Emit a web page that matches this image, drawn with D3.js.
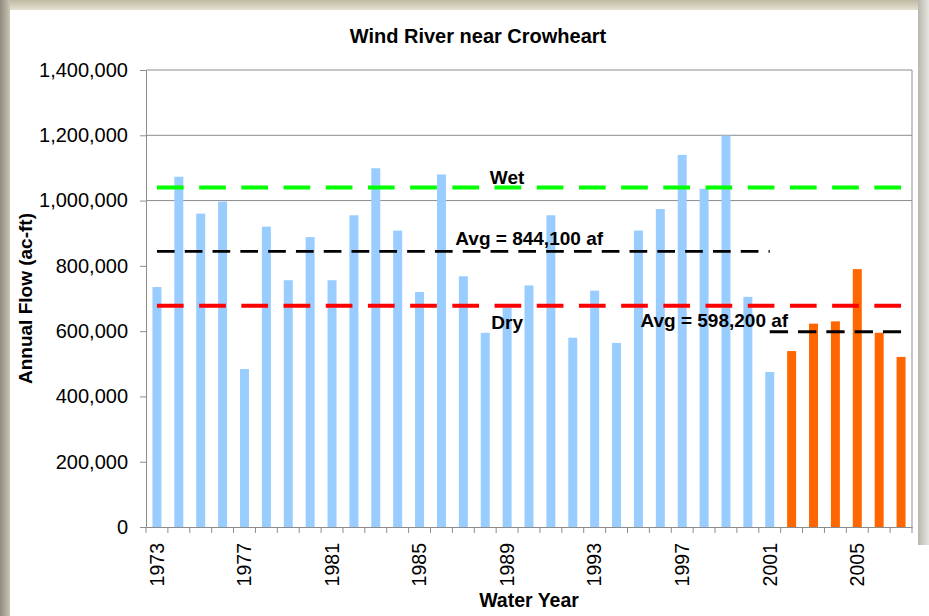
<!DOCTYPE html>
<html>
<head>
<meta charset="utf-8">
<script src="https://cdn.jsdelivr.net/npm/d3@7"></script>
<style>
  html, body { margin: 0; padding: 0; background: #fff; }
  svg { display: block; }
  text { font-family: "Liberation Sans", Arial, sans-serif; fill: #000; }
</style>
</head>
<body>
<svg id="chart" width="929" height="616"></svg>
<script>
// ---------------- DATA ----------------
const title = "Wind River near Crowheart";
const xTitle = "Water Year";
const yTitle = "Annual Flow (ac-ft)";

const historicYears = ["1973","1974","1975","1976","1977","1978","1979","1980","1981","1982",
  "1983","1984","1985","1986","1987","1988","1989","1990","1991","1992",
  "1993","1994","1995","1996","1997","1998","1999","2000","2001"];
const historicFlows = [735000,1073000,960000,997000,484000,920000,756000,888000,756000,955000,
  1099000,908000,720000,1080000,768000,595000,672000,740000,955000,580000,
  724000,564000,908000,974000,1140000,1036000,1199000,705000,475000];

const recentYears = ["2002","2003","2004","2005","2006","2007"];
const recentFlows = [539000,623000,630000,790000,595000,521000];

const yTicks = [0,200000,400000,600000,800000,1000000,1200000,1400000];
const gridValues = [1000000,1200000];
const xLabelYears = ["1973","1977","1981","1985","1989","1993","1997","2001","2005"];

const wetValue = 1040000;
const dryValue = 678000;
const avgHistoric = 844100;
const avgRecent = 598200;

// ---------------- LAYOUT ----------------
const svg = d3.select("#chart");
const W = 929, H = 616;
const plot = {left: 146, right: 912, top: 70, bottom: 527};

// frame
const defs = svg.append("defs");
const gTop = defs.append("linearGradient").attr("id","gTop").attr("x1",0).attr("y1",0).attr("x2",0).attr("y2",1);
gTop.append("stop").attr("offset","0%").attr("stop-color","#bdb9a2");
gTop.append("stop").attr("offset","100%").attr("stop-color","#e4e1d2");
const gLeft = defs.append("linearGradient").attr("id","gLeft").attr("x1",0).attr("y1",0).attr("x2",1).attr("y2",0);
gLeft.append("stop").attr("offset","0%").attr("stop-color","#8f8c7d");
gLeft.append("stop").attr("offset","100%").attr("stop-color","#c9c6b8");
const gRight = defs.append("linearGradient").attr("id","gRight").attr("x1",0).attr("y1",0).attr("x2",1).attr("y2",0);
gRight.append("stop").attr("offset","0%").attr("stop-color","#b9b7ad");
gRight.append("stop").attr("offset","100%").attr("stop-color","#e6e5df");

svg.append("rect").attr("width",W).attr("height",H).attr("fill","#fff");
svg.append("rect").attr("x",0).attr("y",0).attr("width",W).attr("height",10).attr("fill","url(#gTop)");
svg.append("rect").attr("x",0).attr("y",0).attr("width",10).attr("height",H).attr("fill","url(#gLeft)");
svg.append("rect").attr("x",918).attr("y",0).attr("width",11).attr("height",545).attr("fill","url(#gRight)");

// scales
const allYears = historicYears.concat(recentYears);
const x = d3.scaleBand().domain(allYears).range([plot.left, plot.right])
  .paddingInner(0.59).paddingOuter(0.295);
const y = d3.scaleLinear().domain([0, 1400000]).range([plot.bottom, plot.top]);
const xc = d => x(d) + x.bandwidth() / 2;

// gridlines + plot border
const axisGray = "#8c8c8c";
svg.append("g").selectAll("line").data(gridValues).join("line")
  .attr("x1", plot.left).attr("x2", plot.right)
  .attr("y1", d => y(d)).attr("y2", d => y(d))
  .attr("stroke", axisGray).attr("stroke-width", 1);
svg.append("line").attr("x1",plot.left).attr("x2",plot.right)
  .attr("y1",y(1400000)).attr("y2",y(1400000)).attr("stroke",axisGray);
svg.append("line").attr("x1",plot.right).attr("x2",plot.right)
  .attr("y1",plot.top).attr("y2",plot.bottom).attr("stroke",axisGray);

// bars
svg.append("g").selectAll("rect").data(historicYears.map((d,i)=>({year:d, v:historicFlows[i]}))).join("rect")
  .attr("x", d => x(d.year)).attr("width", x.bandwidth())
  .attr("y", d => y(d.v)).attr("height", d => y(0) - y(d.v))
  .attr("fill", "#99ccff");
svg.append("g").selectAll("rect").data(recentYears.map((d,i)=>({year:d, v:recentFlows[i]}))).join("rect")
  .attr("x", d => x(d.year)).attr("width", x.bandwidth())
  .attr("y", d => y(d.v)).attr("height", d => y(0) - y(d.v))
  .attr("fill", "#ff6600");

// reference lines
function refLine(v, fromYear, toYear, color, width, dash) {
  svg.append("line")
    .attr("x1", xc(fromYear)).attr("x2", xc(toYear))
    .attr("y1", y(v)).attr("y2", y(v))
    .attr("stroke", color).attr("stroke-width", width)
    .attr("stroke-dasharray", dash);
}
refLine(wetValue, "1973", "2007", "#00ff00", 4, "26.7,15.5");
refLine(dryValue, "1973", "2007", "#ff0000", 4, "26.7,15.5");
refLine(avgHistoric, "1973", "2001", "#000", 2.8, "17.7,10.1");
refLine(avgRecent, "2001", "2007", "#000", 2.8, "18.3,10");

const fmt = d3.format(",");
const lblFont = "19px";
svg.append("text").attr("x", xc("1989")).attr("y", y(wetValue) - 4)
  .attr("text-anchor","middle").attr("font-weight","bold").attr("font-size",lblFont).text("Wet");
svg.append("text").attr("x", xc("1989")).attr("y", y(dryValue) + 23)
  .attr("text-anchor","middle").attr("font-weight","bold").attr("font-size",lblFont).text("Dry");
svg.append("text").attr("x", xc("1987") - 8).attr("y", y(avgHistoric) - 6)
  .attr("text-anchor","start").attr("font-weight","bold").attr("font-size",lblFont)
  .text("Avg = " + fmt(avgHistoric) + " af");
svg.append("text").attr("x", xc("1995") + 2).attr("y", y(avgRecent) - 5)
  .attr("text-anchor","start").attr("font-weight","bold").attr("font-size",lblFont)
  .text("Avg = " + fmt(avgRecent) + " af");

// y axis
const yAxis = svg.append("g").attr("transform", `translate(${plot.left},0)`)
  .call(d3.axisLeft(y).tickValues(yTicks).tickFormat(fmt).tickSize(6).tickPadding(12).tickSizeOuter(0));
yAxis.select(".domain").attr("stroke", axisGray);
yAxis.selectAll(".tick line").attr("stroke", axisGray);
yAxis.selectAll(".tick text").attr("font-size","20px").attr("font-family","Liberation Sans, Arial, sans-serif").attr("fill","#000");

// x axis
const xAxis = svg.append("g").attr("transform", `translate(0,${plot.bottom})`)
  .call(d3.axisBottom(x).tickValues(xLabelYears).tickSize(0).tickSizeOuter(0));
xAxis.select(".domain").attr("stroke", axisGray);
xAxis.selectAll(".tick text")
  .attr("font-size","19.5px").attr("font-family","Liberation Sans, Arial, sans-serif").attr("fill","#000")
  .attr("transform","rotate(-90)")
  .attr("text-anchor","end")
  .attr("x", -16).attr("y", 0).attr("dy","0.35em");

// band boundary ticks
const step = x.step();
const boundaries = allYears.map(d => xc(d) - step / 2).concat([xc(allYears[allYears.length-1]) + step / 2]);
svg.append("g").selectAll("line").data(boundaries).join("line")
  .attr("x1", d => d).attr("x2", d => d)
  .attr("y1", plot.bottom).attr("y2", plot.bottom + 6)
  .attr("stroke", axisGray);

// titles
svg.append("text").attr("x", 478).attr("y", 43).attr("text-anchor","middle")
  .attr("font-weight","bold").attr("font-size","20px").text(title);
svg.append("text").attr("x", (plot.left + plot.right) / 2).attr("y", 607).attr("text-anchor","middle")
  .attr("font-weight","bold").attr("font-size","19.5px").text(xTitle);
svg.append("text").attr("transform", `translate(32,${(plot.top + plot.bottom) / 2}) rotate(-90)`)
  .attr("text-anchor","middle").attr("font-weight","bold").attr("font-size","19px").text(yTitle);
</script>
</body>
</html>
